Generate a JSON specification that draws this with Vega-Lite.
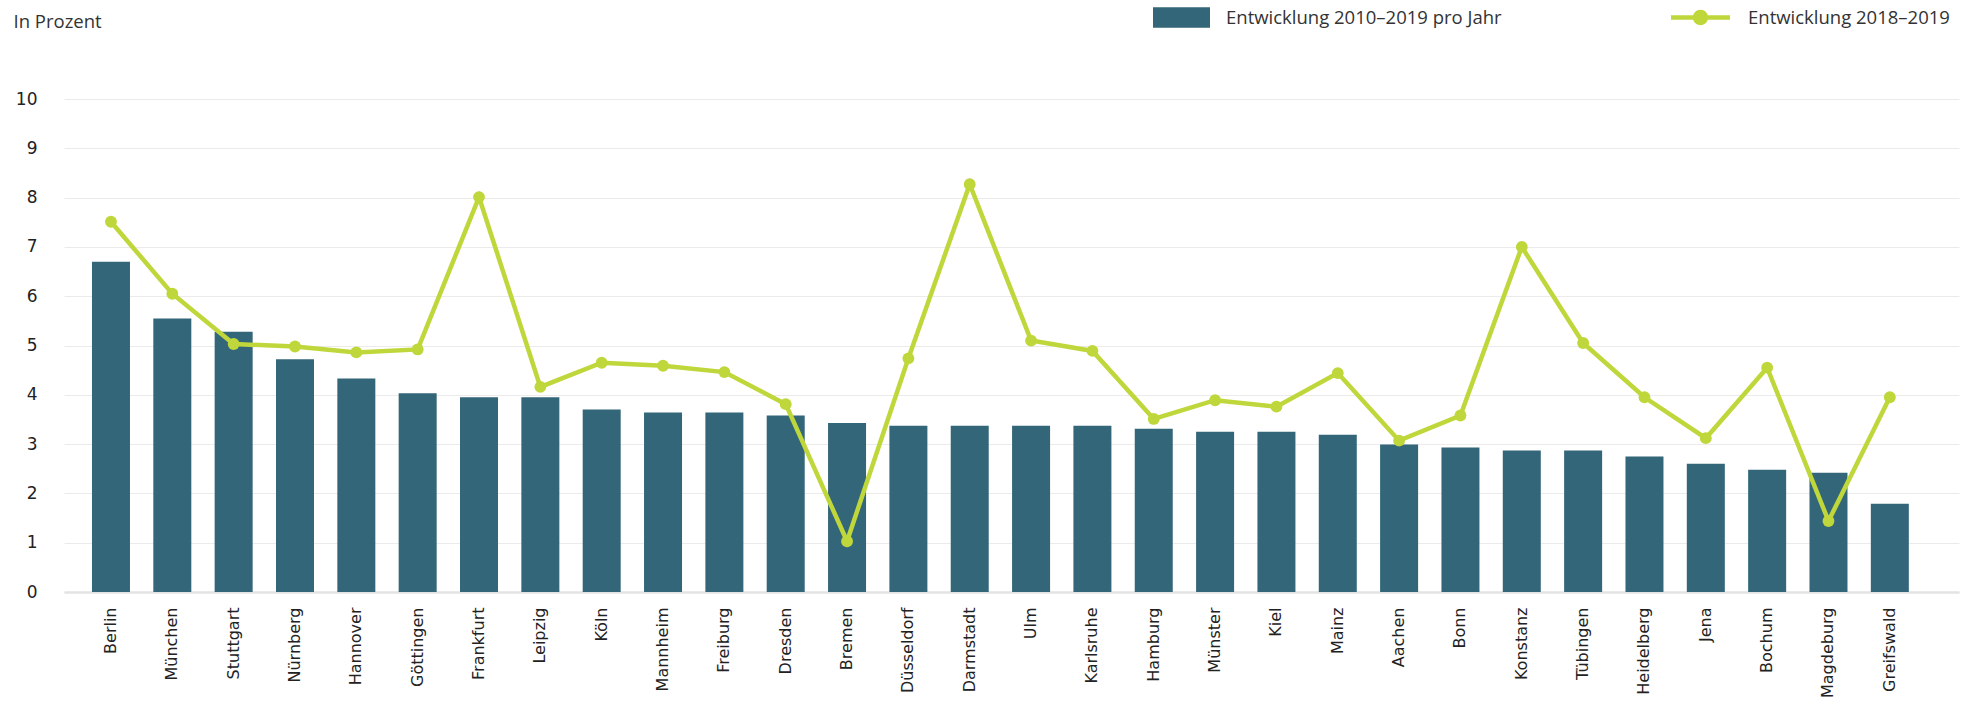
{
  "$schema": "https://vega.github.io/schema/vega-lite/v6.json",
  "autosize": {"type": "none"},
  "padding": {"left": 64, "top": 99, "right": 23, "bottom": 113},
  "width": 1895,
  "height": 493,
  "background": "white",
  "config": {
    "view": {"stroke": null},
    "axis": {"labelColor": "#222222", "labelFont": "DejaVu Sans"}
  },
  "data": {
    "values": [
      {"city": "Berlin", "bar": 6.70, "line": 7.51},
      {"city": "München", "bar": 5.55, "line": 6.05},
      {"city": "Stuttgart", "bar": 5.28, "line": 5.03},
      {"city": "Nürnberg", "bar": 4.72, "line": 4.98},
      {"city": "Hannover", "bar": 4.33, "line": 4.86},
      {"city": "Göttingen", "bar": 4.03, "line": 4.92},
      {"city": "Frankfurt", "bar": 3.95, "line": 8.01},
      {"city": "Leipzig", "bar": 3.95, "line": 4.16},
      {"city": "Köln", "bar": 3.70, "line": 4.65},
      {"city": "Mannheim", "bar": 3.64, "line": 4.59},
      {"city": "Freiburg", "bar": 3.64, "line": 4.46},
      {"city": "Dresden", "bar": 3.58, "line": 3.81},
      {"city": "Bremen", "bar": 3.43, "line": 1.03},
      {"city": "Düsseldorf", "bar": 3.37, "line": 4.74},
      {"city": "Darmstadt", "bar": 3.37, "line": 8.27},
      {"city": "Ulm", "bar": 3.37, "line": 5.10},
      {"city": "Karlsruhe", "bar": 3.37, "line": 4.89},
      {"city": "Hamburg", "bar": 3.31, "line": 3.51},
      {"city": "Münster", "bar": 3.25, "line": 3.89},
      {"city": "Kiel", "bar": 3.25, "line": 3.76},
      {"city": "Mainz", "bar": 3.19, "line": 4.44},
      {"city": "Aachen", "bar": 2.99, "line": 3.07},
      {"city": "Bonn", "bar": 2.93, "line": 3.58},
      {"city": "Konstanz", "bar": 2.87, "line": 7.00},
      {"city": "Tübingen", "bar": 2.87, "line": 5.05},
      {"city": "Heidelberg", "bar": 2.75, "line": 3.95},
      {"city": "Jena", "bar": 2.60, "line": 3.12},
      {"city": "Bochum", "bar": 2.48, "line": 4.55},
      {"city": "Magdeburg", "bar": 2.42, "line": 1.44},
      {"city": "Greifswald", "bar": 1.79, "line": 3.95}
    ]
  },
  "encoding": {
    "x": {
      "field": "city",
      "type": "nominal",
      "sort": null,
      "scale": {"paddingInner": 0.3805, "paddingOuter": 0.637, "align": 0.358},
      "axis": {
        "title": null,
        "labelAngle": -90,
        "labelFontSize": 16,
        "labelPadding": 15,
        "ticks": false,
        "domainColor": "#e3e3e3",
        "domainWidth": 2.5,
        "grid": false
      }
    }
  },
  "layer": [
    {
      "mark": {"type": "bar"},
      "encoding": {
        "y": {
          "field": "bar",
          "type": "quantitative",
          "scale": {"domain": [0, 10], "nice": false},
          "axis": {
            "values": [0, 1, 2, 3, 4, 5, 6, 7, 8, 9, 10],
            "grid": true,
            "gridColor": "#ebebeb",
            "gridWidth": 1.2,
            "domain": false,
            "ticks": false,
            "labelFontSize": 17,
            "labelPadding": 27,
            "title": "In Prozent",
            "titleAngle": 0,
            "titleX": -51,
            "titleY": -78,
            "titleAlign": "left",
            "titleBaseline": "middle",
            "titleFont": "Open Sans",
            "titleFontSize": 18.5,
            "titleFontWeight": "normal",
            "titleColor": "#333333"
          }
        },
        "color": {
          "datum": "Entwicklung 2010–2019 pro Jahr",
          "type": "nominal",
          "scale": {"range": ["#336679"]},
          "legend": {
            "orient": "none",
            "legendX": 1089,
            "legendY": -110,
            "title": null,
            "symbolType": "M-1,-0.36H1V0.36H-1Z",
            "symbolSize": 3249,
            "symbolStrokeWidth": 0,
            "labelFont": "Open Sans",
            "labelFontSize": 18.5,
            "labelColor": "#333333",
            "labelOffset": 16,
            "labelLimit": 0,
            "encode": {"symbols": {"update": {"size": {"value": 3249}, "opacity": {"value": 1}}}}
          }
        }
      }
    },
    {
      "mark": {"type": "line", "stroke": "#bfd73a", "strokeWidth": 4.5},
      "encoding": {
        "y": {"field": "line", "type": "quantitative"}
      }
    },
    {
      "mark": {"type": "point", "filled": true, "size": 140, "opacity": 1},
      "encoding": {
        "y": {"field": "line", "type": "quantitative"},
        "fill": {
          "datum": "Entwicklung 2018–2019",
          "type": "nominal",
          "scale": {"range": ["#bfd73a"]},
          "legend": {
            "orient": "none",
            "legendX": 1607,
            "legendY": -111,
            "title": null,
            "symbolType": "M-1,-0.08H-0.25V0.08H-1Z M0.25,-0.08H1V0.08H0.25Z M-0.26,0A0.26,0.26 0 1,1 0.26,0A0.26,0.26 0 1,1 -0.26,0Z",
            "symbolSize": 3481,
            "symbolStrokeWidth": 0,
            "labelFont": "Open Sans",
            "labelFontSize": 18.5,
            "labelColor": "#333333",
            "labelOffset": 18,
            "labelLimit": 0,
            "encode": {"symbols": {"update": {"size": {"value": 3481}, "opacity": {"value": 1}}}}
          }
        }
      }
    }
  ]
}
